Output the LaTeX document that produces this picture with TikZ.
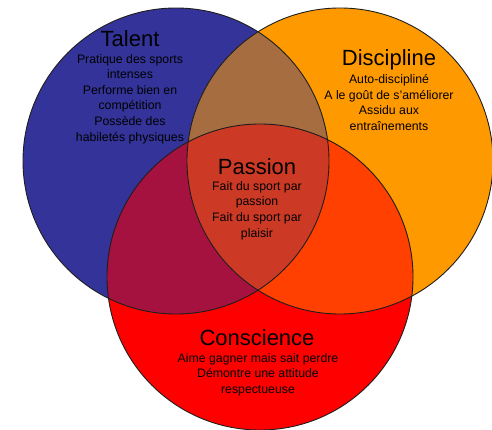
\documentclass[tikz,border=0pt]{standalone}
\usepackage{fontspec}
\setmainfont{Liberation Sans}
\definecolor{cblue}{RGB}{51,51,153}
\definecolor{corange}{RGB}{255,153,0}
\definecolor{cred}{RGB}{255,0,0}
\definecolor{cbo}{RGB}{166,110,64}
\definecolor{cbr}{RGB}{165,18,63}
\definecolor{cor}{RGB}{255,64,0}
\definecolor{cmid}{RGB}{204,58,38}
\definecolor{cline}{RGB}{30,30,30}
\tikzset{
  ttl/.style={font=\fontsize{22}{24}\selectfont, text=black, inner sep=0pt},
  body/.style={font=\fontsize{12.3}{15.6}\selectfont, text=black, align=center, inner sep=0pt},
  rim/.style={draw=cline, line width=0.9pt}
}
\begin{document}
\begin{tikzpicture}[x=1pt,y=-1pt]
\useasboundingbox (0,0) rectangle (492,430);
\def\CT{(176,161) circle[radius=153]}
\def\CD{(340,161) circle[radius=153]}
\def\CC{(260,277) circle[radius=153]}
\fill[cblue] \CT;
\fill[corange] \CD;
\fill[cred] \CC;
\begin{scope}
  \clip \CT;
  \fill[cbo] \CD;
  \fill[cbr] \CC;
\end{scope}
\begin{scope}
  \clip \CD;
  \fill[cor] \CC;
\end{scope}
\begin{scope}
  \clip \CT;
  \clip \CD;
  \fill[cmid] \CC;
\end{scope}
\draw[rim] \CT;
\draw[rim] \CD;
\draw[rim] \CC;
% texts
\node[ttl] (talent) at (130,39) {Talent};
\node[body] (talenttxt) at (130,99) {Pratique des sports\\intenses\\Performe bien en\\compétition\\Possède des\\habiletés physiques};
\node[ttl] (disc) at (389,60) {Discipline};
\node[body] (disctxt) at (389,102.5) {Auto-discipliné\\A le goût de s'améliorer\\Assidu aux\\entraînements};
\node[ttl] (passion) at (257,167) {Passion};
\node[body] (passtxt) at (257,210.5) {Fait du sport par\\passion\\Fait du sport par\\plaisir};
\node[ttl] (consc) at (257,338) {Conscience};
\node[body] (consctxt) at (258,374.5) {Aime gagner mais sait perdre\\Démontre une attitude\\respectueuse};
\end{tikzpicture}
\end{document}
